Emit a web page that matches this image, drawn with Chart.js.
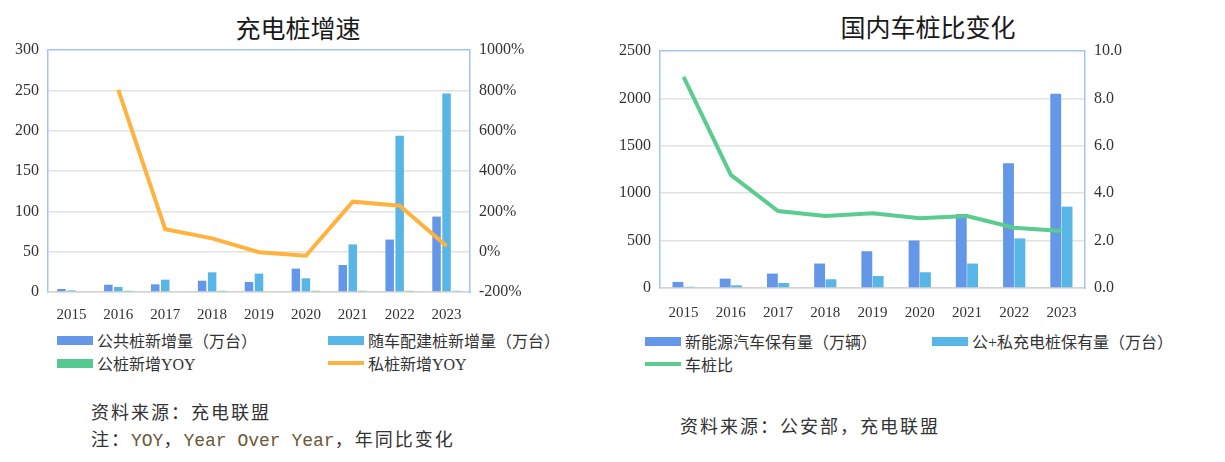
<!DOCTYPE html>
<html>
<head>
<meta charset="utf-8">
<script src="https://cdn.jsdelivr.net/npm/chart.js@4/dist/chart.umd.min.js"></script>
<style>
  html, body { margin: 0; padding: 0; background: #fff; }
  body { width: 1225px; height: 462px; position: relative; overflow: hidden; font-family: "Noto Sans CJK SC", sans-serif; color: #333; }
  .box { position: absolute; }
  .title { position: absolute; font-size: 25px; font-weight: 400; color: #1a1a1a; transform: translate(-50%, -50%); white-space: nowrap; }
  .legend { position: absolute; font-family: "Liberation Serif", "Noto Sans CJK SC", serif; font-size: 16px; color: #333; white-space: nowrap; }
  .legend .item { position: absolute; display: flex; align-items: center; transform: translateY(-50%); }
  .legend .swatch { width: 36px; height: 9px; margin-right: 4px; }
  .legend .swatch.line { height: 4px; }
  .note { position: absolute; font-size: 18px; letter-spacing: 2px; color: #333; white-space: nowrap; transform: translateY(-50%); }
  .note .mono { font-family: "Liberation Mono", monospace; letter-spacing: 0; color: #6b5836; }
</style>
</head>
<body>
<div class="title" style="left:298px; top:27px;">充电桩增速</div>
<div class="title" style="left:928px; top:26px;">国内车桩比变化</div>

<div class="box" style="left:0; top:0; width:610px; height:325px;"><canvas id="growthChart"></canvas></div>
<div class="box" style="left:610px; top:0; width:615px; height:325px;"><canvas id="ratioChart"></canvas></div>

<div class="legend" id="growthLegend"></div>
<div class="legend" id="ratioLegend"></div>

<div class="note" style="left:91px; top:411px;">资料来源：充电联盟</div>
<div class="note" style="left:91px; top:438px;">注：<span class="mono">YOY</span>，<span class="mono">Year Over Year</span>，年同比变化</div>
<div class="note" style="left:680px; top:425px;">资料来源：公安部，充电联盟</div>

<script>
// --- data ---
const years = ["2015", "2016", "2017", "2018", "2019", "2020", "2021", "2022", "2023"];

// 充电桩增速 (left)
const publicNew = [3.7, 9, 9.5, 14, 12.4, 29, 33.5, 65, 93.5];          // 公共桩新增量（万台）
const vehicleNew = [2, 6.2, 15.3, 24.4, 22.8, 17, 59, 193.6, 246];      // 随车配建桩新增量（万台）
const publicYoy = [null, 1.5, null, 1.5, null, 1.5, 1.5, 1.5, 1.5];     // 公桩新增YOY
const privateYoy = [null, 802, 111, 66, -3, -20, 248, 228, 28];         // 私桩新增YOY (%)
const growthLeftTicks = [0, 300, 50];
const growthRightTicks = [-200, 1000, 200];

// 国内车桩比变化 (right)
const nevStock = [64, 99, 152, 258, 388, 501, 780, 1317, 2048];         // 新能源汽车保有量（万辆）
const pileStock = [13, 28, 53, 92, 127, 166, 258, 523, 858];            // 公+私充电桩保有量（万台）
const carPileRatio = [8.91, 4.77, 3.25, 3.04, 3.15, 2.94, 3.04, 2.54, 2.40]; // 车桩比
const ratioLeftTicks = [0, 2500, 500];
const ratioRightTicks = [0, 10, 2];

const colors = {
  darkBlue: "#6497E8",
  lightBlue: "#58B6E7",
  green: "#55C98F",
  orange: "#FFB23E",
  lineGreen: "#5ACC90",
  frame: "#A4C3F4",
  grid: "#E2E2E2",
  text: "#333333",
};

Chart.defaults.font.family = "'Liberation Serif', 'Noto Sans CJK SC', serif";
Chart.defaults.color = colors.text;
Chart.defaults.animation = false;

function gridColor(max) {
  return (ctx) => (ctx.tick && ctx.tick.value === max ? colors.frame : colors.grid);
}

function buildOptions(cfg) {
  return {
    responsive: true,
    maintainAspectRatio: false,
    layout: { padding: { top: cfg.top, right: cfg.padRight, left: 0, bottom: 0 } },
    plugins: { legend: { display: false }, tooltip: { enabled: false } },
    scales: {
      x: {
        grid: { display: false },
        border: { color: "#D4D4D4", width: 1.5 },
        ticks: { font: { size: 15 }, padding: cfg.xPad, color: colors.text },
        afterFit: (s) => { s.height = cfg.xHeight; },
      },
      y: {
        position: "left",
        min: cfg.left[0], max: cfg.left[1],
        ticks: { stepSize: cfg.left[2], font: { size: 16 }, padding: 9, color: colors.text, callback: (v) => String(v) },
        grid: { color: gridColor(cfg.left[1]), lineWidth: 1.5, drawTicks: false },
        border: { color: colors.frame, width: 1.5 },
        afterFit: (s) => { s.width = cfg.leftWidth; },
      },
      y1: {
        position: "right",
        min: cfg.right[0], max: cfg.right[1],
        ticks: { stepSize: cfg.right[2], font: { size: 16 }, padding: 9, color: colors.text, callback: cfg.rightFmt },
        grid: { display: false, drawTicks: false },
        border: { color: colors.frame, width: 1.5 },
        afterFit: (s) => { s.width = cfg.rightWidth; },
      },
    },
  };
}

// 充电桩增速
new Chart(document.getElementById("growthChart"), {
  type: "bar",
  data: {
    labels: years,
    datasets: [
      { type: "line", label: "私桩新增YOY", data: privateYoy, yAxisID: "y1", borderColor: colors.orange, borderWidth: 4, pointRadius: 0, tension: 0, spanGaps: false },
      { label: "公共桩新增量（万台）", data: publicNew, backgroundColor: colors.darkBlue, categoryPercentage: 0.64, barPercentage: 0.85 },
      { label: "随车配建桩新增量（万台）", data: vehicleNew, backgroundColor: colors.lightBlue, categoryPercentage: 0.64, barPercentage: 0.85 },
      { label: "公桩新增YOY", data: publicYoy, backgroundColor: colors.green, categoryPercentage: 0.64, barPercentage: 0.85 },
    ],
  },
  options: buildOptions({
    top: 50, padRight: 80, leftWidth: 48, rightWidth: 60, xHeight: 33, xPad: 6,
    left: growthLeftTicks, right: growthRightTicks,
    rightFmt: (v) => v + "%",
  }),
});

// 国内车桩比变化
new Chart(document.getElementById("ratioChart"), {
  type: "bar",
  data: {
    labels: years,
    datasets: [
      { type: "line", label: "车桩比", data: carPileRatio, yAxisID: "y1", borderColor: colors.lineGreen, borderWidth: 4, pointRadius: 0, tension: 0 },
      { label: "新能源汽车保有量（万辆）", data: nevStock, backgroundColor: colors.darkBlue, categoryPercentage: 0.48, barPercentage: 0.96 },
      { label: "公+私充电桩保有量（万台）", data: pileStock, backgroundColor: colors.lightBlue, categoryPercentage: 0.48, barPercentage: 0.96 },
    ],
  },
  options: buildOptions({
    top: 51, padRight: 90, leftWidth: 50, rightWidth: 50, xHeight: 37, xPad: 8,
    left: ratioLeftTicks, right: ratioRightTicks,
    rightFmt: (v) => v.toFixed(1),
  }),
});

// HTML legends laid out in two columns like the reference
function legend(el, items) {
  items.forEach((it) => {
    const div = document.createElement("div");
    div.className = "item";
    div.style.left = it.x + "px";
    div.style.top = it.y + "px";
    div.innerHTML = `<span class="swatch${it.line ? " line" : ""}" style="background:${it.color}"></span>${it.text}`;
    el.appendChild(div);
  });
}

legend(document.getElementById("growthLegend"), [
  { x: 57, y: 340, color: colors.darkBlue, text: "公共桩新增量（万台）" },
  { x: 328, y: 340, color: colors.lightBlue, text: "随车配建桩新增量（万台）" },
  { x: 57, y: 363, color: colors.green, text: "公桩新增YOY" },
  { x: 328, y: 363, color: colors.orange, text: "私桩新增YOY", line: true },
]);

legend(document.getElementById("ratioLegend"), [
  { x: 645, y: 341, color: colors.darkBlue, text: "新能源汽车保有量（万辆）" },
  { x: 932, y: 341, color: colors.lightBlue, text: "公+私充电桩保有量（万台）" },
  { x: 645, y: 364, color: colors.lineGreen, text: "车桩比", line: true },
]);
</script>
</body>
</html>
